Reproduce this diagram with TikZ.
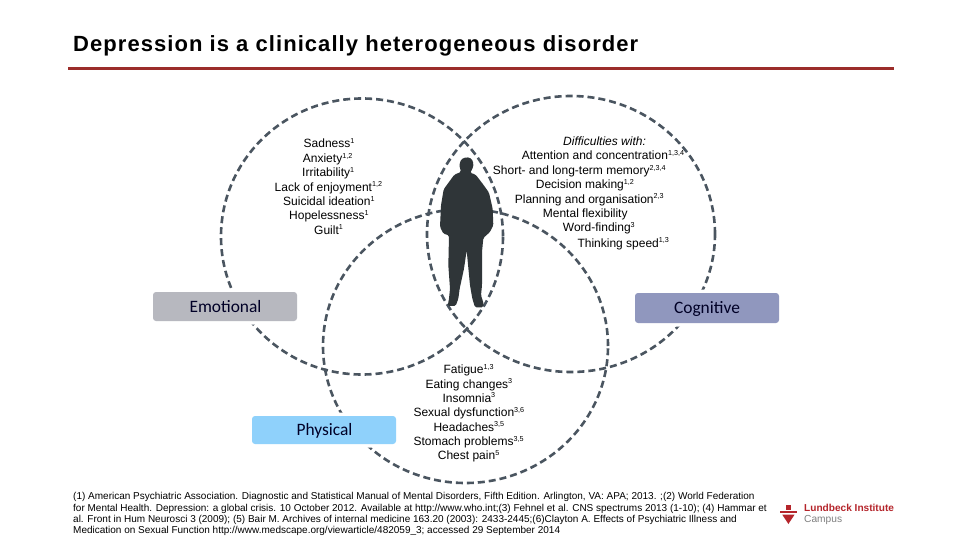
\documentclass[tikz,border=0pt]{standalone}
\usepackage{fontspec}
\setmainfont{Liberation Sans}
\newfontfamily\labelfont{Carlito}
\newfontfamily\titlefont[LetterSpace=4.8]{Liberation Sans Bold}
\definecolor{ringcol}{HTML}{4A5560}
\definecolor{rulecol}{HTML}{9B2D2A}
\definecolor{figcol}{HTML}{2F3538}
\definecolor{emocol}{HTML}{B7B8BF}
\definecolor{cogcol}{HTML}{9097BE}
\definecolor{phycol}{HTML}{8FD1FB}
\definecolor{logocol}{HTML}{B5252B}
\tikzset{
  ring/.style={draw=ringcol,line width=2.6pt,dash pattern=on 7pt off 4pt},
  tagbox/.style={draw=white,line width=7pt,fill=white,rounded corners=3pt},
  tagfill/.style={rounded corners=3pt},
  taglabel/.style={font=\labelfont\fontsize{17.4}{17.4}\selectfont,text=black!85!blue,inner sep=0pt},
  item/.style={anchor=base west,inner sep=0pt,font=\fontsize{12}{12}\selectfont,text=black},
  refline/.style={anchor=base west,inner sep=0pt,font=\fontsize{10}{10}\selectfont},
}
\newcommand{\sps}[1]{\textsuperscript{\fontsize{7.2}{7.2}\selectfont #1}}
\begin{document}
\begin{tikzpicture}[x=1pt,y=-1pt]
\useasboundingbox[fill=white] (0,0) rectangle (960,540);
% title
\node[anchor=base west,inner sep=0pt,font=\titlefont\fontsize{22}{22}\selectfont] (title) at (73,52) {Depression is a clinically heterogeneous disorder};
\fill[rulecol] (68,67) rectangle (894,69.6);
% rings
\draw[ring] (362,236.5) ellipse [x radius=141pt,y radius=138pt];
\draw[ring] (571,234) ellipse [x radius=144pt,y radius=138pt];
\draw[ring] (465.5,346) ellipse [x radius=142.5pt,y radius=137pt];
% figure
\begin{scope}[shift={(435,152)},x=0.3333pt,y=-0.3333pt]
\fill[figcol,rounded corners=1.5pt] (95,15) -- (110,20) -- (116,36) -- (112,52) -- (105,62) -- (122,68) -- (145,98) -- (162,122) -- (173,170) -- (175,220) -- (165,240) -- (145,258) -- (141,300) -- (141,350) -- (141,400) -- (138,430) -- (146,455) -- (145,466) -- (120,466) -- (112,440) -- (105,400) -- (95,295) -- (87,350) -- (74,410) -- (70,440) -- (62,462) -- (38,462) -- (42,440) -- (45,410) -- (40,340) -- (42,250) -- (25,245) -- (15,225) -- (18,160) -- (26,112) -- (42,90) -- (58,68) -- (78,60) -- (73,40) -- (78,22) -- cycle;
\end{scope}
% boxes
\fill[tagbox] (153,292) rectangle (297,321);
\fill[tagbox] (635,293) rectangle (779,323);
\fill[tagbox] (252,416) rectangle (396,444);
\fill[tagfill,emocol] (153,292) rectangle (297,321);
\fill[tagfill,cogcol] (635,293) rectangle (779,323);
\fill[tagfill,phycol] (252,416) rectangle (396,444);
\node[taglabel] (emo) at (225.5,307) {Emotional};
\node[taglabel] (cog) at (707,308.5) {Cognitive};
\node[taglabel] (phy) at (324.5,430.5) {Physical};
% emotional
\node[item] (e1) at (303.5,148) {Sadness\sps{1}};
\node[item] (e2) at (302.7,162.5) {Anxiety\sps{1,2}};
\node[item] (e3) at (302,176.5) {Irritability\sps{1}};
\node[item] (e4) at (274.5,191) {Lack of enjoyment\sps{1,2}};
\node[item] (e5) at (283,205.5) {Suicidal ideation\sps{1}};
\node[item] (e6) at (289,219.5) {Hopelessness\sps{1}};
\node[item] (e7) at (314,234) {Guilt\sps{1}};
% cognitive
\node[item] (c0) at (563,146) {\itshape Difficulties with:};
\node[item] (c1) at (521.7,160) {Attention and concentration\sps{1,3,4}};
\node[item] (c2) at (492.7,174.5) {Short- and long-term memory\sps{2,3,4}};
\node[item] (c3) at (535.7,189) {Decision making\sps{1,2}};
\node[item] (c4) at (514.7,203) {Planning and organisation\sps{2,3}};
\node[item] (c5) at (542.7,217.5) {Mental flexibility};
\node[item] (c6) at (562.7,231.5) {Word-finding\sps{3}};
\node[item] (c7) at (577.3,247) {Thinking speed\sps{1,3}};
% physical
\node[item] (p1) at (443.3,373.5) {Fatigue\sps{1,3}};
\node[item] (p2) at (425.3,388) {Eating changes\sps{3}};
\node[item] (p3) at (442.3,402) {Insomnia\sps{3}};
\node[item] (p4) at (413.3,416.5) {Sexual dysfunction\sps{3,6}};
\node[item] (p5) at (433.3,431) {Headaches\sps{3,5}};
\node[item] (p6) at (413.3,445.5) {Stomach problems\sps{3,5}};
\node[item] (p7) at (437.7,459.5) {Chest pain\sps{5}};
% references
\node[refline] (r1) at (73,499.5) {(1) American Psychiatric Association. Diagnostic and Statistical Manual of Mental Disorders, Fifth Edition. Arlington, VA: APA; 2013. ;(2) World Federation};
\node[refline] (r2) at (73,511) {for Mental Health. Depression: a global crisis. 10 October 2012. Available at http://www.who.int;(3) Fehnel et al. CNS spectrums 2013 (1-10); (4) Hammar et};
\node[refline] (r3) at (73,522.5) {al. Front in Hum Neurosci 3 (2009); (5) Bair M. Archives of internal medicine 163.20 (2003): 2433-2445;(6)Clayton A. Effects of Psychiatric Illness and};
\node[refline] (r4) at (73,533) {Medication on Sexual Function http://www.medscape.org/viewarticle/482059\_3; accessed 29 September 2014};
% logo
\fill[logocol] (785.7,505) rectangle (791,510);
\fill[logocol] (780,511) rectangle (797,513.3);
\fill[logocol] (782.3,514.7) -- (794.5,514.7) -- (788.4,524) -- cycle;
\node[anchor=base west,inner sep=0pt,font=\bfseries\fontsize{10.1}{10.1}\selectfont,text=logocol] (lg1) at (804,511.8) {Lundbeck Institute};
\node[anchor=base west,inner sep=0pt,font=\fontsize{10.2}{10.2}\selectfont,text=black!50] (lg2) at (804,522.5) {Campus};
\end{tikzpicture}
\end{document}
